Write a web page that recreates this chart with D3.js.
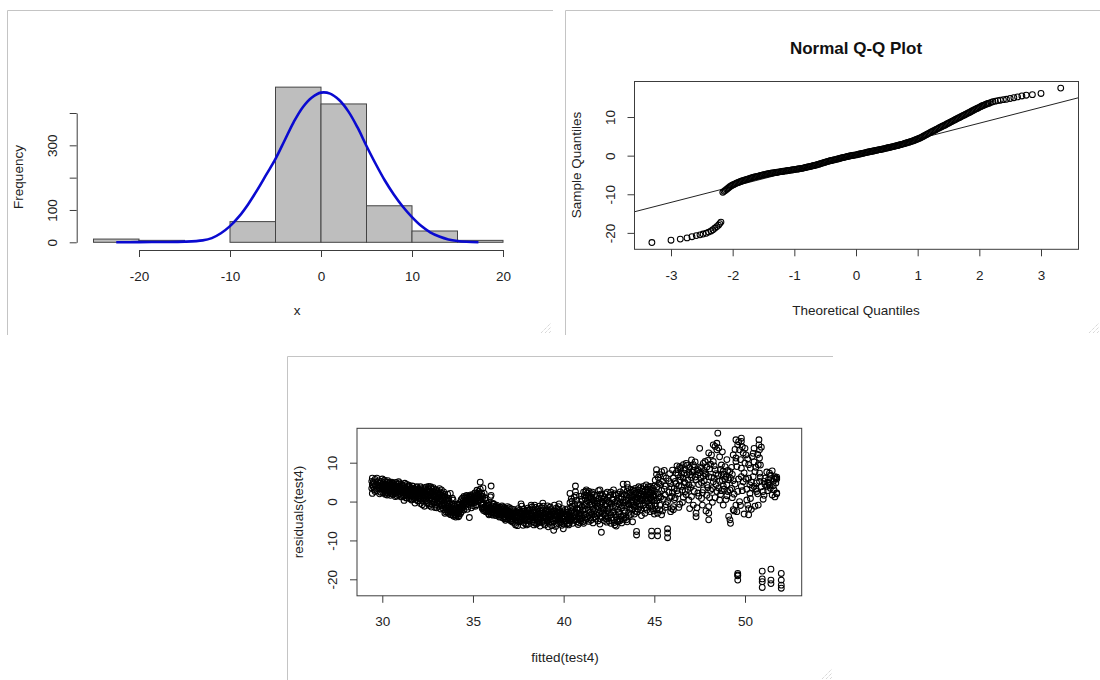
<!DOCTYPE html>
<html>
<head>
<meta charset="utf-8">
<script src="https://cdn.jsdelivr.net/npm/d3@7"></script>
<style>
  body { margin: 0; background: #fff; }
  svg { display: block; }
</style>
</head>
<body>
<svg width="1100" height="680"></svg>
<script>
// ---- histogram of residuals ----
var histBinStart = [-25, -20, -15, -10, -5, 0, 5, 10, 15];
var histCounts = [10, 6, 0, 64, 480, 428, 113, 35, 6];
var histXTicks = [-20, -10, 0, 10, 20];
var histYTicks = [0, 100, 200, 300, 400];
var histYLabels = [0, 100, 300];
// normal curve
var curveX = [-22.5, -20, -17.5, -15, -13, -12, -11, -10, -9, -8, -7, -6, -5, -4, -3, -2, -1, 0, 1, 2, 3, 4, 5, 6, 7, 8, 9, 10, 11, 12, 13, 14, 15, 16, 17.3];
var curveY = [0, 0.5, 1, 2, 6, 13, 28, 50, 80, 118, 162, 210, 258, 315, 372, 418, 448, 463, 460, 440, 405, 356, 298, 243, 192, 148, 110, 78, 51, 31, 18, 9, 4, 1.5, 0];

// ---- normal Q-Q plot ----
var qqXTicks = [-3, -2, -1, 0, 1, 2, 3];
var qqYTicks = [-20, -10, 0, 10];
var qqLine = { intercept: 0.2, slope: 4.1 };
var qqPoints = [
  [-3.31, -22.5], [-3.00, -21.9], [-2.85, -21.6], [-2.74, -21.3], [-2.66, -21.0], [-2.59, -20.7],
  [-2.53, -20.5], [-2.48, -20.3], [-2.43, -20.1], [-2.39, -19.8], [-2.35, -19.5], [-2.32, -19.2],
  [-2.29, -18.8], [-2.26, -18.4], [-2.23, -18.0], [-2.21, -17.6], [-2.19, -17.2],
  [-2.16, -9.5], [-2.14, -9.25], [-2.12, -9.0], [-2.10, -8.75], [-2.08, -8.5], [-2.06, -8.25],
  [-2.04, -8.0], [-2.02, -7.8], [-2.00, -7.6], [-1.98, -7.45], [-1.96, -7.3], [-1.94, -7.15],
  [-1.92, -7.0], [-1.90, -6.9], [-1.88, -6.75], [-1.86, -6.6], [-1.84, -6.5], [-1.82, -6.4],
  [-1.80, -6.3], [-1.78, -6.2], [-1.76, -6.1], [-1.74, -6.0], [-1.72, -5.9], [-1.70, -5.8],
  [-1.68, -5.7], [-1.66, -5.6], [-1.64, -5.5], [-1.62, -5.45], [-1.60, -5.35], [-1.58, -5.3],
  [-1.56, -5.2], [-1.54, -5.1], [-1.52, -5.05], [-1.50, -4.95], [-1.48, -4.9], [-1.46, -4.8],
  [-1.44, -4.75], [-1.42, -4.7], [-1.40, -4.6], [-1.38, -4.55], [-1.36, -4.5], [-1.34, -4.45],
  [-1.32, -4.4], [-1.30, -4.35], [-1.28, -4.3], [-1.26, -4.25], [-1.24, -4.2], [-1.22, -4.15],
  [-1.20, -4.1], [-1.18, -4.05], [-1.16, -4.0], [-1.14, -3.95], [-1.12, -3.9], [-1.10, -3.85],
  [-1.08, -3.8], [-1.06, -3.75], [-1.04, -3.7], [-1.02, -3.65], [-1.00, -3.6], [-0.98, -3.55],
  [-0.96, -3.5], [-0.94, -3.45], [-0.92, -3.4], [-0.90, -3.35], [-0.88, -3.3], [-0.86, -3.22],
  [-0.84, -3.15], [-0.82, -3.08], [-0.80, -3.0], [-0.78, -2.92], [-0.76, -2.85], [-0.74, -2.78],
  [-0.72, -2.7], [-0.70, -2.62], [-0.68, -2.55], [-0.66, -2.48], [-0.64, -2.4], [-0.62, -2.3],
  [-0.60, -2.2], [-0.58, -2.1], [-0.56, -2.0], [-0.54, -1.9], [-0.52, -1.8], [-0.50, -1.7],
  [-0.48, -1.6], [-0.46, -1.5], [-0.44, -1.4], [-0.42, -1.32], [-0.40, -1.25], [-0.38, -1.18],
  [-0.36, -1.1], [-0.34, -1.02], [-0.32, -0.95], [-0.30, -0.88], [-0.28, -0.8], [-0.26, -0.7],
  [-0.24, -0.6], [-0.22, -0.52], [-0.20, -0.45], [-0.18, -0.38], [-0.16, -0.3], [-0.14, -0.22],
  [-0.12, -0.15], [-0.10, -0.08], [-0.08, 0.0], [-0.06, 0.05], [-0.04, 0.1], [-0.02, 0.15],
  [0.00, 0.2], [0.02, 0.28], [0.04, 0.35], [0.06, 0.42], [0.08, 0.5], [0.10, 0.58],
  [0.12, 0.65], [0.14, 0.72], [0.16, 0.8], [0.18, 0.88], [0.20, 0.95], [0.22, 1.02],
  [0.24, 1.1], [0.26, 1.15], [0.28, 1.2], [0.30, 1.28], [0.32, 1.35], [0.34, 1.42],
  [0.36, 1.5], [0.38, 1.55], [0.40, 1.6], [0.42, 1.68], [0.44, 1.75], [0.46, 1.82],
  [0.48, 1.9], [0.50, 1.98], [0.52, 2.05], [0.54, 2.12], [0.56, 2.2], [0.58, 2.28],
  [0.60, 2.35], [0.62, 2.42], [0.64, 2.5], [0.66, 2.58], [0.68, 2.65], [0.70, 2.75],
  [0.72, 2.85], [0.74, 2.92], [0.76, 3.0], [0.78, 3.1], [0.80, 3.2], [0.82, 3.3],
  [0.84, 3.4], [0.86, 3.5], [0.88, 3.6], [0.90, 3.7], [0.92, 3.8], [0.94, 3.92],
  [0.96, 4.05], [0.98, 4.18], [1.00, 4.3], [1.02, 4.45], [1.04, 4.6], [1.06, 4.75],
  [1.08, 4.9], [1.10, 5.08], [1.12, 5.25], [1.14, 5.42], [1.16, 5.6], [1.18, 5.78],
  [1.20, 5.95], [1.22, 6.12], [1.24, 6.3], [1.26, 6.45], [1.28, 6.6], [1.30, 6.78],
  [1.32, 6.95], [1.34, 7.12], [1.36, 7.3], [1.38, 7.45], [1.40, 7.6], [1.42, 7.75],
  [1.44, 7.9], [1.46, 8.08], [1.48, 8.25], [1.50, 8.42], [1.52, 8.6], [1.54, 8.75],
  [1.56, 8.9], [1.58, 9.08], [1.60, 9.25], [1.62, 9.42], [1.64, 9.6], [1.66, 9.75],
  [1.68, 9.9], [1.70, 10.08], [1.72, 10.25], [1.74, 10.4], [1.76, 10.55], [1.78, 10.72],
  [1.80, 10.9], [1.82, 11.05], [1.84, 11.2], [1.86, 11.38], [1.88, 11.55], [1.90, 11.72],
  [1.92, 11.9], [1.94, 12.05], [1.96, 12.2], [1.98, 12.35], [2.00, 12.5], [2.02, 12.68],
  [2.04, 12.85], [2.06, 12.98], [2.08, 13.1], [2.10, 13.25], [2.12, 13.4], [2.14, 13.5],
  [2.16, 13.6],
  [2.19, 13.8], [2.22, 13.95], [2.26, 14.1], [2.30, 14.25], [2.34, 14.35], [2.39, 14.5],
  [2.44, 14.6], [2.50, 14.8], [2.56, 15.0], [2.62, 15.2], [2.69, 15.45], [2.76, 15.65],
  [2.86, 15.8], [3.00, 16.1], [3.32, 17.5]
];

// ---- residuals vs fitted ----
var residXTicks = [30, 35, 40, 45, 50];
var residYTicks = [-20, -10, 0, 10];
// each row: fitted value, then the residuals seen at that fitted value
var residRows = [
  [29.45, [6.0, 4.3, 2.1]], [29.5, [5.0, 3.8]], [29.55, [4.6, 3.1]], [29.7, [6.0, 4.2, 2.8]],
  [29.8, [5.3, 3.6]], [29.9, [4.8, 2.4, 3.9]], [30.0, [5.8, 4.5, 3.3]], [30.08, [4.1, 2.7]],
  [30.15, [5.1, 3.5, 1.9]], [30.22, [4.4, 2.9]], [30.3, [5.4, 3.8, 2.2]], [30.38, [4.6, 3.1]],
  [30.45, [3.9, 2.4, 1.6]], [30.52, [5.0, 3.4]], [30.6, [4.2, 2.8, 1.8]], [30.68, [3.7, 2.1]],
  [30.75, [4.9, 3.2]], [30.82, [4.0, 2.5, 1.4]], [30.9, [5.1, 3.6, 2.9]], [30.98, [3.3, 2.0]],
  [31.05, [4.5, 2.7, 1.2]], [31.12, [3.8, 2.2]], [31.2, [4.1, 3.0, 0.3]], [31.28, [3.5, 1.8]],
  [31.35, [4.4, 2.6, 1.0]], [31.42, [3.2, 1.9]], [31.5, [3.9, 2.4, 0.8]], [31.58, [2.9, 1.5]],
  [31.65, [4.0, 2.2, 0.6]], [31.72, [3.4, 1.7]], [31.8, [2.7, 1.1, -0.4]], [31.88, [3.6, 2.0]],
  [31.95, [3.0, 1.3, 0.2]], [32.02, [2.4, 0.9]], [32.1, [3.8, 2.1, -0.5]], [32.18, [2.8, 1.2]],
  [32.25, [3.3, 1.6, 0.1]], [32.32, [2.5, -1.2]], [32.4, [3.7, 2.0, 0.7]], [32.48, [2.9, 1.1]],
  [32.55, [3.9, 1.8, -0.6]], [32.62, [2.3, 0.4]], [32.7, [3.5, 1.5, -1.4]], [32.78, [2.6, 0.8]],
  [32.85, [3.2, 1.3, -0.2]], [32.92, [2.0, -0.9]], [33.0, [2.8, 0.6, -1.6]], [33.08, [1.7, 0.1]],
  [33.15, [3.3, 1.2, -0.7]], [33.22, [2.2, -1.9]], [33.3, [1.6, 0.2, -1.1]], [33.38, [2.5, -0.4]],
  [33.45, [1.1, -2.1, -3.0]], [33.52, [0.5, -1.3]], [33.6, [1.9, -0.8, -2.5]], [33.68, [0.2, -1.7]],
  [33.75, [2.1, -2.2, -3.3]], [33.82, [-1.0, -2.8]], [33.9, [-1.8, -3.5, 0.4]], [33.98, [-2.4, -1.2]],
  [34.05, [-3.0, -1.9, -4.0]], [34.12, [-2.6, -0.7]], [34.2, [-3.2, -1.5, -3.9]], [34.28, [-2.0, -0.3]],
  [34.35, [-2.7, 0.5, -1.2]], [34.42, [-1.6, 0.9]], [34.5, [-0.5, 1.3, -2.2]], [34.58, [0.3, -1.0]],
  [34.65, [0.8, -0.2, 1.6]], [34.72, [-1.4, 0.5]], [34.8, [1.1, -0.6, -4.1]], [34.88, [0.2, 1.7]],
  [34.95, [1.3, -0.4, 0.7]], [35.02, [0.9, -1.1]], [35.1, [1.5, 0.1, 2.2]], [35.18, [0.6, -0.8]],
  [35.25, [1.9, 0.3]], [35.32, [2.6, 1.0]], [35.4, [5.0, 3.2, 0.4]], [35.48, [2.0, -0.9]],
  [35.55, [3.5, 1.3, -1.5]], [35.62, [2.1, -2.0]], [35.7, [-1.2, -2.6, 0.3]], [35.78, [-1.8, -0.5]],
  [35.85, [-2.3, -3.1, -1.0]], [35.92, [-1.5, -2.7]], [36.0, [4.0, 1.6, -2.0, -3.3]], [36.08, [-1.2, -2.5]],
  [36.15, [-1.9, -3.0, -0.7]], [36.22, [-2.4, -1.4]], [36.3, [-3.2, -2.0, -0.9]], [36.38, [-2.6, -1.7]],
  [36.45, [-3.4, -2.2, -4.0]], [36.52, [-1.6, -2.9]], [36.6, [-3.6, -2.4, -1.1]], [36.68, [-3.0, -1.9]],
  [36.75, [-3.9, -2.7, -4.4]], [36.82, [-2.2, -3.3]], [36.9, [-3.7, -2.5, -1.3]], [36.98, [-4.2, -3.0]],
  [37.05, [-2.8, -4.6, -3.5]], [37.12, [-1.9, -3.9]], [37.2, [-4.4, -3.1, -5.3]], [37.28, [-3.7, -2.4]],
  [37.35, [-4.9, -3.4, -6.0]], [37.42, [-4.1, -2.9]], [37.5, [-3.6, -5.2, -1.8]], [37.58, [-4.3, -2.7]],
  [37.65, [-3.2, -4.8, -0.6]], [37.72, [-2.5, -4.0]], [37.8, [-3.5, -5.4, -2.0]], [37.88, [-4.4, -3.0]],
  [37.95, [-2.6, -3.8, -6.0]], [38.02, [-4.6, -1.7]], [38.1, [-3.3, -5.0, -2.4]], [38.18, [-3.9, -2.9]],
  [38.25, [-4.8, -1.4, -3.4]], [38.32, [-2.2, -4.2]], [38.4, [-3.6, -5.5, -0.9]], [38.48, [-2.8, -4.5]],
  [38.55, [-3.9, -1.9, -5.2]], [38.62, [-3.1, -4.7]], [38.7, [-2.4, -4.0, -6.3]], [38.78, [-3.5, -1.6]],
  [38.85, [-4.9, -2.9, -0.4]], [38.92, [-3.7, -5.6]], [39.0, [-2.6, -4.3, -3.2]], [39.08, [-5.0, -1.8]],
  [39.15, [-3.9, -6.5, -2.7]], [39.22, [-4.6, -3.4]], [39.3, [-2.1, -5.3, -3.8]], [39.38, [-4.4, -2.9]],
  [39.45, [-7.4, -3.6, -5.1]], [39.52, [-2.5, -4.1]], [39.6, [-3.3, -5.8, -1.7]], [39.68, [-4.7, -3.0]],
  [39.75, [-2.3, -4.0, -0.6]], [39.82, [-5.4, -3.5]], [39.9, [-4.2, -2.8, -6.1]], [39.98, [-3.7, -7.0]],
  [40.05, [-4.5, -2.6, -5.3]], [40.12, [-3.2, -4.9]], [40.2, [-5.7, -3.8, -1.9]], [40.28, [-4.3, -6.0]],
  [40.35, [2.1, -0.3, -3.5, -5.0]], [40.42, [0.7, -2.4, -4.4]], [40.5, [-1.2, -3.9, -5.6]], [40.58, [1.1, -2.8]],
  [40.65, [4.0, 2.5, -4.7, -3.3]], [40.72, [0.3, -1.7, -5.2]], [40.8, [-4.1, -2.2, -5.9]], [40.88, [-3.6, -0.8]],
  [40.95, [-5.0, -2.9, 1.4]], [41.02, [-4.3, -1.3, 0.2]], [41.1, [-5.6, -3.4, 2.4]], [41.18, [-2.0, -4.8, 0.8]],
  [41.25, [3.0, 1.6, -0.6]], [41.32, [-3.9, 2.2, -1.5]], [41.4, [2.6, 0.4, -5.1]], [41.48, [-2.7, 1.2, -4.2]],
  [41.55, [-0.9, 2.0, -3.1]], [41.62, [-5.5, 0.6, -1.9]], [41.7, [1.7, -2.4, -0.3]], [41.78, [-4.5, 1.0]],
  [41.85, [-1.2, -3.6, 0.1]], [41.92, [2.8, -2.1]], [42.0, [3.0, -0.7, -4.4, -5.8]], [42.08, [-7.9, -1.5, 0.9]],
  [42.15, [-3.0, 1.5, -0.1]], [42.22, [-2.2, -4.9]], [42.3, [2.0, -1.0, -3.7]], [42.38, [-5.3, 0.3]],
  [42.45, [-1.8, -4.1, 1.2]], [42.52, [-2.9, -0.4]], [42.6, [2.4, -3.4, -5.6]], [42.68, [-1.3, 0.6]],
  [42.75, [3.0, -2.6, -4.7]], [42.82, [-0.2, -6.0]], [42.9, [-3.9, 1.6, -6.3]], [42.98, [-2.0, -5.2]],
  [43.05, [0.9, -3.1, -0.8]], [43.12, [2.5, -4.6]], [43.2, [-1.6, 1.3, -5.5]], [43.28, [4.5, -0.3, -3.6]],
  [43.35, [-2.3, 1.8]], [43.42, [0.4, -1.1, -4.1]], [43.5, [4.5, 2.7, -5.2]], [43.58, [-0.6, -2.8, 1.0]],
  [43.65, [2.1, -1.7]], [43.72, [0.0, -3.3, 3.1]], [43.8, [-5.2, 1.5, -0.9]], [43.88, [2.6, -1.4]],
  [43.95, [0.6, -2.5, 3.4]], [44.02, [-7.7, -8.6, 1.2, -0.2]], [44.1, [3.0, -1.9, 0.9]], [44.18, [2.0, -0.6]],
  [44.25, [3.6, 1.4, -2.2]], [44.32, [0.3, 2.7]], [44.4, [3.9, -0.9, 1.8]], [44.48, [2.4, 0.6, -3.0]],
  [44.55, [4.3, 1.1, -1.6]], [44.62, [3.2, 0.0]], [44.7, [2.6, -0.4, 1.7]], [44.78, [3.9, -2.6, 0.8]],
  [44.85, [-7.6, -8.8, 2.2, -0.9]], [44.92, [3.4, 1.3, -1.8]], [45.0, [2.6, 0.3, -3.2, 4.0]], [45.06, [1.9, -1.2]],
  [45.12, [8.2, 7.0, -2.1]], [45.18, [-7.6, -8.8, -3.0]], [45.25, [4.7, 1.0]], [45.3, [-0.9, -2.1, 6.9]],
  [45.4, [7.7, -3.4, 2.8]], [45.5, [6.5, 0.6]], [45.6, [1.7, -1.5, 4.0]], [45.73, [-7.0, -8.1, -9.3, 0.0]],
  [45.8, [5.3, 2.4]], [45.95, [1.3, -1.8, 3.6]], [46.05, [-1.3, -2.1, 6.0]], [46.1, [3.4, 0.5]],
  [46.2, [7.4, 4.6]], [46.3, [8.2, 6.9, 2.0]], [46.4, [9.0, 5.5, -0.7]], [46.5, [7.3, 3.9]],
  [46.6, [9.5, 6.0, 1.1]], [46.7, [8.2, 2.6, 4.8]], [46.8, [6.9, 9.3]], [46.9, [4.3, 7.6, 0.4]],
  [47.05, [10.7, 1.3, 6.2]], [47.15, [9.5, -0.9, 8.0]], [47.3, [-3.0, -3.9, 5.6]], [47.4, [8.2, 6.9, 2.2]],
  [47.5, [13.7, 7.4]], [47.6, [8.6, 4.9, 0.8]], [47.7, [3.0, 9.8, 6.5]], [47.8, [10.3, 7.2]],
  [47.9, [4.3, 8.9, 1.6]], [48.0, [12.5, 6.4, -1.3, -3.0, -4.7]], [48.1, [9.6, 2.9]], [48.25, [14.6, 10.3, 5.1]],
  [48.35, [14.2, 8.2, 1.0]], [48.45, [13.3, 15.0, 2.6]], [48.5, [17.6, 6.7]], [48.6, [5.2, 0.4, 11.5]],
  [48.7, [6.9, 9.4, 2.8]], [48.8, [-0.9, 7.8, 4.0]], [48.9, [9.0, 5.8]], [49.0, [4.3, 1.5, 10.8]],
  [49.17, [7.7, -4.7, 3.0]], [49.2, [6.0, -5.6]], [49.26, [3.4, 8.8]], [49.35, [-2.1, 5.4, 12.0]],
  [49.4, [-2.4, 1.9]], [49.5, [15.9, 11.2, 10.3, -0.9]], [49.6, [14.6, 2.6, -18.5, -19.1, -20.2, -18.9]],
  [49.7, [13.3, 0.0]], [49.8, [16.3, 15.5, 8.6, 6.4, 3.9]], [49.9, [12.5, 5.1]], [50.0, [13.7, 9.9]],
  [50.1, [0.4, 3.2]], [50.15, [-0.9, 11.0]], [50.2, [9.5, 6.0, -3.4, -1.8]], [50.27, [4.3, 2.1]],
  [50.4, [11.6, 3.5]], [50.5, [13.7, 3.9, 10.2]], [50.55, [7.7, -1.2]], [50.64, [2.6, 4.8]],
  [50.73, [9.5, -0.9]], [50.77, [15.9, 14.6]], [50.8, [13.3, 11.2, 7.3, 5.2]], [50.95, [-17.9, -19.9, -22.1, -20.6]],
  [51.0, [2.6, 0.6]], [51.1, [6.0, 4.4]], [51.3, [4.7, 5.7]], [51.4, [3.4, 6.8]],
  [51.43, [-17.4, -20.2, -21.1]], [51.5, [1.7, 7.9]], [51.56, [5.2, 4.1]], [51.65, [6.4, 1.2]],
  [51.75, [6.3, 5.8, 2.2, 2.0]], [52.0, [-18.5, -20.2, -21.5, -22.3]],
  // second pass over the denser parts of the cloud
  [29.42, [5.2, 3.4]], [29.6, [5.7, 2.6, 4.0]], [29.75, [3.3, 5.0]], [29.85, [4.1, 2.0]],
  [29.95, [3.6, 5.2]], [30.04, [4.8, 2.3, 3.9]], [30.12, [5.5, 3.0]], [30.19, [4.0, 2.4]],
  [30.26, [4.9, 3.3, 1.7]], [30.34, [4.2, 2.6]], [30.41, [5.0, 3.5]], [30.49, [4.3, 2.0]],
  [30.56, [3.6, 2.4, 4.7]], [30.64, [4.6, 3.0]], [30.71, [2.6, 4.1, 1.3]], [30.79, [3.5, 2.2]],
  [30.86, [4.4, 1.8]], [30.94, [3.9, 2.6, 4.8]], [31.02, [3.0, 1.6]], [31.09, [4.2, 2.4]],
  [31.16, [3.4, 1.5, 2.8]], [31.24, [4.7, 2.1]], [31.31, [3.0, 0.9]], [31.39, [3.8, 2.3, 1.4]],
  [31.46, [2.7, 4.2]], [31.54, [3.3, 1.2, 2.1]], [31.61, [2.6, 0.4]], [31.69, [3.9, 1.4, 2.8]],
  [31.76, [2.2, 3.1]], [31.84, [1.6, 0.5, 2.9]], [31.91, [2.5, 3.8]], [31.99, [1.8, 0.1, 3.2]],
  [32.06, [2.9, 1.5]], [32.14, [0.6, 2.4, 3.3]], [32.21, [1.9, -0.8]], [32.29, [3.0, 0.9, 2.2]],
  [32.36, [1.4, 3.5]], [32.44, [2.4, 0.2, -0.3]], [32.51, [3.2, 1.4]], [32.59, [0.9, 2.6, -1.0]],
  [32.66, [1.9, 3.8]], [32.74, [0.3, 2.2, -0.7]], [32.81, [1.6, 3.6]], [32.89, [2.5, 0.1, -1.5]],
  [32.96, [1.2, 3.0]], [33.04, [-0.4, 2.2, 0.9]], [33.11, [-1.2, 2.6]], [33.19, [0.5, 1.8, -0.2]],
  [33.26, [-0.9, 3.0]], [33.34, [0.9, -1.7, 2.0]], [33.41, [-0.6, 1.4]], [33.49, [-1.6, 0.3, -2.6]],
  [33.56, [-0.3, -2.0]], [33.64, [-1.2, 0.9, -3.0]], [33.71, [-2.6, -0.5]], [33.79, [-1.5, -3.4]],
  [33.86, [-2.1, 0.9]], [33.94, [-2.9, -0.7, -3.8]], [34.02, [-1.6, -3.4]], [34.09, [-2.2, -3.6]],
  [34.16, [-1.0, -2.9]], [34.24, [-3.6, -0.8]], [34.31, [-1.8, -3.1]], [34.39, [-0.6, -2.1]],
  [34.46, [0.2, -1.4]], [34.54, [0.9, -0.3]], [34.61, [-0.6, 1.2]], [34.69, [0.0, -2.0]],
  [34.76, [1.4, 0.7]], [34.84, [-0.2, 1.0]], [34.91, [0.4, -1.6]], [34.99, [1.8, 0.3]],
  [35.06, [-0.3, 1.2]], [35.14, [0.8, -1.2]], [35.22, [1.3, 2.9]], [35.29, [0.0, 1.6]],
  [35.36, [2.2, 0.6]], [35.44, [1.4, -0.4]], [35.51, [0.7, -1.8]], [35.58, [-0.7, -2.3]],
  [35.66, [-1.6, 0.9]], [35.74, [-2.3, -0.9]], [35.81, [-1.3, -2.6]], [35.88, [-3.4, -0.3]],
  [35.96, [-2.2, 1.2]], [36.04, [-2.8, -1.6]], [36.11, [-0.5, -3.5]], [36.19, [-2.0, -2.9]],
  [36.26, [-1.2, -3.6]], [36.34, [-2.3, -3.0]], [36.41, [-1.5, -2.8]], [36.49, [-3.8, -2.5]],
  [36.56, [-2.0, -3.2]], [36.64, [-1.4, -4.2]], [36.71, [-2.6, -3.5]], [36.79, [-1.7, -4.8]],
  [36.86, [-3.0, -2.0]], [36.94, [-4.5, -2.4]], [37.01, [-3.3, -1.6]], [37.09, [-5.0, -2.6]],
  [37.16, [-3.6, -4.9]], [37.24, [-2.0, -3.0]], [37.31, [-5.6, -4.3]], [37.39, [-2.6, -3.8]],
  [37.46, [-4.7, -6.2]], [37.54, [-3.0, -2.3]], [37.61, [-5.0, -3.9]], [37.69, [-4.4, -1.2]],
  [37.76, [-3.0, -6.1]], [37.84, [-2.5, -4.8]], [37.91, [-3.4, -5.7]], [37.99, [-2.2, -3.9]],
  [38.06, [-4.0, -5.8]], [38.14, [-2.0, -4.4]], [38.21, [-3.0, -0.9]], [38.29, [-5.2, -3.8]],
  [38.36, [-2.6, -6.0]], [38.44, [-4.1, -1.5]], [38.51, [-3.3, -5.8]], [38.59, [-2.4, -4.3]],
  [38.66, [-5.4, -1.2]], [38.74, [-3.0, -4.4]], [38.81, [-2.2, -5.3]], [38.89, [-4.2, -1.2]],
  [38.96, [-3.0, -6.0]], [39.04, [-3.8, -2.2]], [39.11, [-4.6, -1.1]], [39.19, [-2.3, -5.6]],
  [39.26, [-4.0, -1.4]], [39.34, [-3.2, -6.2]], [39.41, [-4.9, -2.4]], [39.49, [-3.3, -0.9]],
  [39.56, [-4.5, -6.4]], [39.64, [-2.6, -3.8]], [39.71, [-5.6, -1.3]], [39.79, [-4.4, -2.9]],
  [39.86, [-3.2, -5.1]], [39.94, [-1.8, -4.6]], [40.01, [-3.1, -5.8]], [40.09, [-4.0, -2.1]],
  [40.16, [-5.0, -3.4]], [40.24, [-2.7, -4.6]], [40.31, [-3.9, -5.6]], [40.39, [-1.5, -4.4]],
  [40.46, [-3.0, 0.1]], [40.54, [-4.8, -2.0]], [40.61, [-0.8, -3.7]], [40.69, [-2.8, 1.6]],
  [40.76, [-4.6, -0.6]], [40.84, [-3.1, -5.4]], [40.91, [-1.9, -4.4]], [40.99, [-3.6, 0.6]],
  [41.06, [-2.3, -5.2]], [41.14, [1.6, -1.0]], [41.21, [-3.2, 2.6]], [41.29, [0.2, -4.4]],
  [41.36, [-2.3, 1.0]], [41.44, [-3.6, -0.9]], [41.51, [0.8, -4.8]], [41.59, [-1.3, 2.4]],
  [41.66, [-3.3, 0.2]], [41.74, [-0.7, -4.0]], [41.81, [1.5, -2.8]], [41.89, [-0.4, -5.0]],
  [41.96, [0.8, -3.0]], [42.04, [-2.4, 1.9]], [42.11, [-4.0, -0.4]], [42.19, [0.6, -1.8]],
  [42.26, [-3.3, 1.0]], [42.34, [-0.6, -4.4]], [42.41, [-2.4, 2.4]], [42.49, [-5.0, 0.0]],
  [42.56, [1.6, -1.5]], [42.64, [-4.2, -0.6]], [42.71, [0.4, -3.0]], [42.79, [2.0, -5.4]],
  [42.86, [-1.2, -3.4]], [42.94, [0.2, -4.6]], [43.01, [-2.7, 1.9]], [43.09, [-5.0, -0.2]],
  [43.16, [-3.8, 0.6]], [43.24, [2.0, -1.0]], [43.31, [-4.6, 3.0]], [43.39, [-0.2, -2.9]],
  [43.46, [1.6, -4.7]], [43.54, [0.3, 3.6]], [43.61, [-3.6, -0.9]], [43.69, [1.2, 2.4]],
  [43.76, [-2.0, 0.4]], [43.84, [3.0, -0.4]], [43.91, [1.8, -3.2]], [43.99, [-1.0, 2.2]],
  [44.06, [0.2, -2.7]], [44.14, [1.6, 3.8]], [44.21, [-1.2, 0.6]], [44.29, [2.0, -3.6]],
  [44.36, [1.0, 3.2]], [44.44, [-1.8, 1.4]], [44.51, [3.0, 0.1]], [44.59, [1.6, -2.2]],
  [44.66, [3.8, 0.6]], [44.74, [2.0, -1.2]], [44.81, [1.1, 3.1]], [44.89, [2.8, 0.2]],
  [44.96, [1.6, -2.4]],
  [45.05, [5.5, -0.5]], [45.15, [3.8, 0.2]], [45.22, [6.2, 2.0]], [45.35, [1.1, 4.4]],
  [45.45, [-2.4, 5.2]], [45.55, [8.0, 3.2]], [45.65, [-0.8, 6.0]], [45.85, [0.9, 7.2]],
  [45.9, [-2.6, 4.6]], [46.0, [2.4, 8.1]], [46.15, [5.2, 1.0]], [46.25, [9.2, 2.8]],
  [46.35, [-1.5, 4.0]], [46.45, [6.4, 8.6]], [46.55, [2.9, -0.2]], [46.65, [7.3, 5.0]],
  [46.75, [1.8, 9.8]], [46.85, [5.6, 3.1]], [46.95, [8.8, -1.8]], [47.0, [6.9, 3.6]],
  [47.1, [4.3, 7.6]], [47.2, [2.6, 9.0]], [47.25, [6.3, 10.2]], [47.35, [-1.6, 7.8]],
  [47.45, [4.4, 1.4]], [47.55, [6.0, 8.9]], [47.65, [-0.9, 2.3]], [47.75, [8.0, 5.3]],
  [47.85, [7.0, -2.4]], [47.95, [3.6, 10.6]], [48.05, [8.4, 1.0]], [48.15, [6.2, 12.0]],
  [48.2, [3.3, -0.2]], [48.3, [9.2, 6.0]], [48.4, [4.4, 7.2]], [48.55, [13.8, 3.5]],
  [48.65, [8.3, 1.8]], [48.75, [5.4, 12.8]], [48.85, [3.2, 7.0]], [48.95, [0.5, 6.3]],
  [49.05, [8.0, 2.6]], [49.1, [5.6, -3.8]], [49.3, [7.0, 1.0]], [49.45, [4.5, 13.4]],
  [49.55, [9.0, -2.6]], [49.65, [15.4, 5.8]], [49.75, [10.8, -1.0]], [49.85, [14.1, 2.8]],
  [49.95, [7.4, -3.2]], [50.05, [12.0, 5.8]], [50.3, [8.6, 0.8]], [50.35, [-2.0, 5.0]],
  [50.45, [6.4, 12.4]], [50.6, [3.2, 8.8]], [50.7, [12.1, 2.0]], [50.85, [6.3, 9.4]],
  [50.9, [3.8, 14.0]], [51.05, [5.2, 1.6]], [51.2, [7.6, 3.9]], [51.25, [5.0, 2.8]],
  [51.35, [7.3, 4.2]], [51.6, [3.0, 5.8]], [51.7, [6.0, 4.8]]
];

var FONT = "Liberation Sans, Arial, sans-serif";

function plain(d) { return String(d); }

function styleAxis(g) {
  g.attr("font-family", FONT).attr("font-size", 13.5);
  g.selectAll("path, line").attr("stroke", "#3c3c3c");
  g.selectAll("text").attr("fill", "#222");
}

// R style vertical tick labels
function rotateLeftLabels(g) {
  g.selectAll(".tick text")
    .attr("x", 0)
    .attr("y", 0)
    .attr("dy", 0)
    .attr("text-anchor", "middle")
    .attr("transform", "translate(-20,0) rotate(-90)");
}

function grip(svg, cx, cy) {
  [10, 6, 2].forEach(function (s) {
    svg.append("line")
      .attr("x1", cx - s).attr("y1", cy)
      .attr("x2", cx).attr("y2", cy - s)
      .attr("stroke", "#c8c8c8")
      .attr("stroke-dasharray", "1,1");
  });
}

function drawPoints(g, pts, xs, ys) {
  g.selectAll("circle")
    .data(pts)
    .enter()
    .append("circle")
    .attr("cx", function (d) { return xs(d[0]); })
    .attr("cy", function (d) { return ys(d[1]); })
    .attr("r", 2.9)
    .attr("fill", "none")
    .attr("stroke", "#000")
    .attr("stroke-width", 1.05);
}

function main() {
  var svg = d3.select("svg");

  // window frames around the three screenshots
  var frame = "#c4c4c4";
  svg.append("path").attr("d", "M7.5,335V10.5H553").attr("fill", "none").attr("stroke", frame);
  svg.append("path").attr("d", "M565.5,335V10.5H1100").attr("fill", "none").attr("stroke", frame);
  svg.append("path").attr("d", "M287.5,680V356.5H833").attr("fill", "none").attr("stroke", frame);
  grip(svg, 551, 333);
  grip(svg, 1099, 333);
  grip(svg, 832, 679);

  // ================= histogram =================
  var xH = d3.scaleLinear().domain([-20, 20]).range([139, 503]);
  var yH = d3.scaleLinear().domain([0, 400]).range([242.3, 113]);
  var gH = svg.append("g");

  gH.selectAll("rect.bar")
    .data(histBinStart)
    .enter()
    .append("rect")
    .attr("class", "bar")
    .attr("x", function (d) { return xH(d); })
    .attr("width", function (d) { return xH(d + 5) - xH(d); })
    .attr("y", function (d, i) { return yH(histCounts[i]); })
    .attr("height", function (d, i) { return yH(0) - yH(histCounts[i]); })
    .attr("fill", "#bebebe")
    .attr("stroke", "#444")
    .attr("stroke-width", 1);

  var line = d3.line()
    .x(function (d, i) { return xH(curveX[i]); })
    .y(function (d) { return yH(d); })
    .curve(d3.curveCatmullRom);
  gH.append("path")
    .attr("d", line(curveY))
    .attr("fill", "none")
    .attr("stroke", "#0a0ad0")
    .attr("stroke-width", 2.6);

  var axHx = gH.append("g")
    .attr("transform", "translate(0,250)")
    .call(d3.axisBottom(xH).tickValues(histXTicks).tickSize(7).tickSizeOuter(0).tickPadding(14).tickFormat(plain));
  styleAxis(axHx);

  var axHy = gH.append("g")
    .attr("transform", "translate(76.7,0)")
    .call(d3.axisLeft(yH).tickValues(histYTicks).tickSize(7).tickSizeOuter(0)
      .tickFormat(function (d) { return histYLabels.indexOf(d) >= 0 ? String(d) : ""; }));
  styleAxis(axHy);
  rotateLeftLabels(axHy);

  gH.append("text").attr("x", 297).attr("y", 315)
    .attr("text-anchor", "middle").attr("font-family", FONT).attr("font-size", 13.5).attr("fill", "#222")
    .text("x");
  gH.append("text").attr("transform", "translate(23,177) rotate(-90)")
    .attr("text-anchor", "middle").attr("font-family", FONT).attr("font-size", 13.5).attr("fill", "#222")
    .text("Frequency");

  // ================= Q-Q plot =================
  var xQ = d3.scaleLinear().domain([-3.6, 3.6]).range([634, 1078]);
  var yQ = d3.scaleLinear().domain([-24.25, 19.2]).range([249.3, 81.5]);
  var gQ = svg.append("g");

  var clipQ = svg.append("clipPath").attr("id", "clipQ");
  clipQ.append("rect").attr("x", 634).attr("y", 81.5).attr("width", 444).attr("height", 167.8);

  gQ.append("line")
    .attr("clip-path", "url(#clipQ)")
    .attr("x1", xQ(-3.6)).attr("y1", yQ(qqLine.intercept + qqLine.slope * -3.6))
    .attr("x2", xQ(3.6)).attr("y2", yQ(qqLine.intercept + qqLine.slope * 3.6))
    .attr("stroke", "#222").attr("stroke-width", 1);

  drawPoints(gQ, qqPoints, xQ, yQ);

  gQ.append("rect").attr("x", 634.5).attr("y", 81.5).attr("width", 444).attr("height", 167.8)
    .attr("fill", "none").attr("stroke", "#3c3c3c");

  var axQx = gQ.append("g")
    .attr("transform", "translate(0,249.3)")
    .call(d3.axisBottom(xQ).tickValues(qqXTicks).tickSize(7).tickSizeOuter(0).tickPadding(14).tickFormat(plain));
  styleAxis(axQx);
  axQx.select(".domain").remove();

  var axQy = gQ.append("g")
    .attr("transform", "translate(634.5,0)")
    .call(d3.axisLeft(yQ).tickValues(qqYTicks).tickSize(7).tickSizeOuter(0).tickFormat(plain));
  styleAxis(axQy);
  axQy.select(".domain").remove();
  rotateLeftLabels(axQy);

  gQ.append("text").attr("x", 856).attr("y", 54)
    .attr("text-anchor", "middle").attr("font-family", FONT).attr("font-size", 17)
    .attr("font-weight", "bold").attr("fill", "#111")
    .text("Normal Q-Q Plot");
  gQ.append("text").attr("x", 856).attr("y", 315)
    .attr("text-anchor", "middle").attr("font-family", FONT).attr("font-size", 13.5).attr("fill", "#222")
    .text("Theoretical Quantiles");
  gQ.append("text").attr("transform", "translate(581,165) rotate(-90)")
    .attr("text-anchor", "middle").attr("font-family", FONT).attr("font-size", 13.5).attr("fill", "#222")
    .text("Sample Quantiles");

  // ================= residuals vs fitted =================
  var xR = d3.scaleLinear().domain([30, 50]).range([382.3, 745]);
  var yR = d3.scaleLinear().domain([-20, 10]).range([579.3, 462.7]);
  var gR = svg.append("g");

  var residPts = [];
  residRows.forEach(function (row) {
    row[1].forEach(function (r) { residPts.push([row[0], r]); });
  });
  drawPoints(gR, residPts, xR, yR);

  gR.append("rect").attr("x", 357).attr("y", 428.3).attr("width", 444.7).attr("height", 167.5)
    .attr("fill", "none").attr("stroke", "#3c3c3c");

  var axRx = gR.append("g")
    .attr("transform", "translate(0,595.8)")
    .call(d3.axisBottom(xR).tickValues(residXTicks).tickSize(7).tickSizeOuter(0).tickPadding(14).tickFormat(plain));
  styleAxis(axRx);
  axRx.select(".domain").remove();

  var axRy = gR.append("g")
    .attr("transform", "translate(357,0)")
    .call(d3.axisLeft(yR).tickValues(residYTicks).tickSize(7).tickSizeOuter(0).tickFormat(plain));
  styleAxis(axRy);
  axRy.select(".domain").remove();
  rotateLeftLabels(axRy);

  gR.append("text").attr("x", 565).attr("y", 662)
    .attr("text-anchor", "middle").attr("font-family", FONT).attr("font-size", 13.5).attr("fill", "#222")
    .text("fitted(test4)");
  gR.append("text").attr("transform", "translate(303,512) rotate(-90)")
    .attr("text-anchor", "middle").attr("font-family", FONT).attr("font-size", 13.5).attr("fill", "#222")
    .text("residuals(test4)");
}

main();
</script>
</body>
</html>
